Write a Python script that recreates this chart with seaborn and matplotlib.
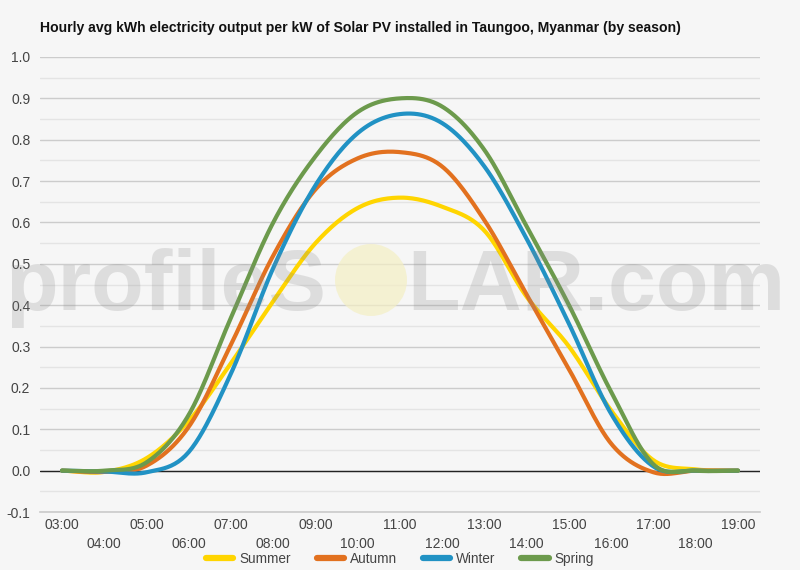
import numpy as np
import pandas as pd
import matplotlib
matplotlib.use("Agg")
import matplotlib.pyplot as plt
from matplotlib.patches import Ellipse
import seaborn as sns

# data (hourly averages)
hours = list(range(3, 20))
hour_labels = [f"{h:02d}:00" for h in hours]
seasons = ["Summer", "Autumn", "Winter", "Spring"]
summer = [0.0, -0.003, 0.03, 0.12, 0.26, 0.41, 0.55, 0.635, 0.66, 0.638, 0.58, 0.42, 0.30, 0.145, 0.025, 0.003, 0.0]
autumn = [0.0, -0.003, 0.012, 0.106, 0.305, 0.52, 0.68, 0.755, 0.77, 0.735, 0.605, 0.425, 0.245, 0.065, -0.004, 0.0, 0.0]
winter = [0.0, -0.002, -0.004, 0.045, 0.235, 0.49, 0.69, 0.816, 0.862, 0.84, 0.735, 0.56, 0.355, 0.137, 0.01, 0.0, 0.0]
spring = [0.0, 0.0, 0.02, 0.135, 0.37, 0.60, 0.76, 0.867, 0.90, 0.88, 0.775, 0.59, 0.40, 0.19, 0.015, 0.0, 0.0]
colors = ["#FFD500", "#E2711F", "#2192C4", "#6C9A4C"]
title = "Hourly avg kWh electricity output per kW of Solar PV installed in Taungoo, Myanmar (by season)"

bg = "#f6f6f6"
sns.set_theme(style="white")
plt.rcParams["font.family"] = ["Liberation Sans", "DejaVu Sans"]


def smooth(x, y, n=24):
    # Catmull-Rom curve through the hourly points (drawing only)
    x = np.asarray(x, float)
    y = np.asarray(y, float)
    m = np.gradient(y, x)
    xs, ys = [], []
    for i in range(len(x) - 1):
        h = x[i + 1] - x[i]
        t = np.linspace(0, 1, n, endpoint=False)
        h00 = 2 * t**3 - 3 * t**2 + 1
        h10 = t**3 - 2 * t**2 + t
        h01 = -2 * t**3 + 3 * t**2
        h11 = t**3 - t**2
        xs.append(x[i] + t * h)
        ys.append(h00 * y[i] + h10 * h * m[i] + h01 * y[i + 1] + h11 * h * m[i + 1])
    xs.append([x[-1]])
    ys.append([y[-1]])
    return np.concatenate(xs), np.concatenate(ys)


fig = plt.figure(figsize=(8, 5.7), dpi=100, facecolor=bg)
ax = fig.add_axes([40 / 800, 58 / 570, 720 / 800, 455 / 570], facecolor=bg)

for name, vals, c in zip(seasons, [summer, autumn, winter, spring], colors):
    xs, ys = smooth(hours, vals)
    df = pd.DataFrame({"hour": xs, "kwh": ys})
    sns.lineplot(data=df, x="hour", y="kwh", color=c, lw=3.0, label=name, ax=ax,
                 sort=False, zorder=3)

pad = 22 / 42.25
ax.set_xlim(hours[0] - pad, hours[-1] + pad)
ax.set_ylim(-0.1, 1.0)

yt = np.round(np.arange(-0.1, 1.01, 0.1), 1)
ax.set_yticks(yt)
ax.set_yticklabels([f"{v:.1f}" for v in yt])
ax.set_yticks(np.round(np.arange(-0.05, 1.0, 0.1), 2), minor=True)
ax.grid(True, which="major", axis="y", color="#cccccc", lw=1)
ax.grid(True, which="minor", axis="y", color="#e4e4e4", lw=1)
ax.grid(False, axis="x")
ax.axhline(0, color="#222222", lw=1, zorder=2)

ax.set_xticks(hours)
ax.set_xticklabels([lab if i % 2 == 0 else "\n" + lab for i, lab in enumerate(hour_labels)])
ax.tick_params(axis="both", length=0, labelsize=10, colors="#444444")
ax.tick_params(axis="x", pad=4)
ax.tick_params(axis="y", pad=7)
for lab in ax.get_xticklabels():
    lab.set_linespacing(1.45)
for s in ["top", "right", "left"]:
    ax.spines[s].set_visible(False)
ax.spines["bottom"].set_color("#cccccc")
ax.set_xlabel("")
ax.set_ylabel("")

fig.text(40 / 800, 1 - 28 / 570, title, fontsize=10.1, fontweight="bold",
         color="#111111", va="center")

leg = ax.legend(loc="center", bbox_to_anchor=(0.5, 1 - 559 / 570), bbox_transform=fig.transFigure,
                ncol=4, frameon=False, fontsize=9.8, handlelength=2.0, handletextpad=0.45,
                columnspacing=1.9)
for line in leg.get_lines():
    line.set_linewidth(4.5)
for t in leg.get_texts():
    t.set_color("#444444")

# watermark
wm = dict(fontsize=62, fontweight="bold", color="#888888", alpha=0.22, va="baseline", zorder=10)
fig.text(5 / 800, 1 - 310 / 570, "profileS", **wm)
fig.text(407 / 800, 1 - 310 / 570, "LAR.com", **wm)
fig.patches.append(Ellipse((371 / 800, 1 - 280 / 570), 72 / 800, 72 / 570,
                           transform=fig.transFigure, facecolor="#f4efc4", alpha=0.7,
                           edgecolor="none", zorder=10))

fig.savefig("out.png", dpi=100, facecolor=bg)
